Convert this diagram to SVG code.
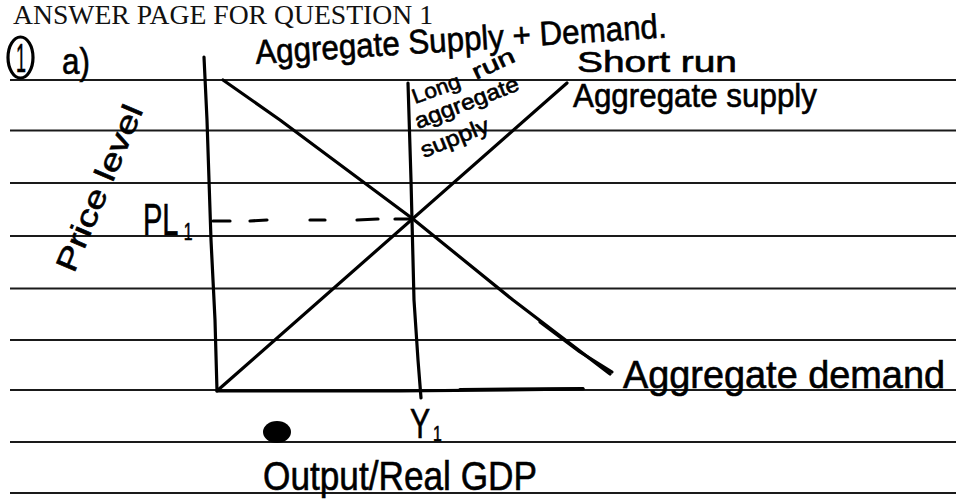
<svg xmlns="http://www.w3.org/2000/svg" width="956" height="501" viewBox="0 0 956 501">
  <defs>
    <style>
      .rule { stroke: #1a1a1a; stroke-width: 2; fill: none; }
      .ink { stroke: #000; stroke-width: 3.2; fill: none; stroke-linecap: round; stroke-linejoin: round; }
      .hand { font-family: "Liberation Sans", "DejaVu Sans", sans-serif; fill: #000; stroke: #000; stroke-width: 0.6; }
      .print { font-family: "Liberation Serif", "Times New Roman", serif; fill: #111; }
    </style>
  </defs>
  <rect width="956" height="501" fill="#fff"/>

  <g id="ruled-lines">
    <line class="rule" x1="10" y1="80" x2="956" y2="80"/>
    <line class="rule" x1="10" y1="130.5" x2="956" y2="130.5"/>
    <line class="rule" x1="10" y1="183" x2="956" y2="183"/>
    <line class="rule" x1="10" y1="236" x2="956" y2="236"/>
    <line class="rule" x1="10" y1="288.5" x2="956" y2="288.5"/>
    <line class="rule" x1="10" y1="340" x2="956" y2="340"/>
    <line class="rule" x1="10" y1="390" x2="956" y2="390"/>
    <line class="rule" x1="10" y1="442" x2="956" y2="442"/>
    <line class="rule" x1="10" y1="493" x2="956" y2="493"/>
  </g>

  <g id="header">
    <text class="print" x="13" y="24" font-size="27" textLength="420" lengthAdjust="spacingAndGlyphs">ANSWER PAGE FOR QUESTION 1</text>
    <ellipse cx="20.5" cy="57.5" rx="12.5" ry="20.5" class="ink" stroke-width="2.8"/>
    <text class="hand" x="21" y="72" font-size="40" text-anchor="middle" textLength="10" lengthAdjust="spacingAndGlyphs">1</text>
    <text class="hand" x="62" y="74" font-size="36" textLength="28" lengthAdjust="spacingAndGlyphs">a)</text>
    <text class="hand" x="256" y="64" font-size="34" textLength="412" lengthAdjust="spacingAndGlyphs" transform="rotate(-3.7 256 64)">Aggregate Supply + Demand.</text>
  </g>

  <g id="axes">
    <polyline class="ink" stroke-width="3.6" points="204,57 207,120 211,240 215,320 217,391"/>
    <polyline class="ink" stroke-width="3.4" points="217,391 400,391 583,389"/>
    <line class="ink" stroke-width="5" x1="460" y1="389.5" x2="583" y2="388.5"/>
  </g>

  <g id="connectors">
    <polyline id="ad-curve" class="ink" points="223,80 280,120 413,219 513,300 610,374"/>
    <polyline class="ink" stroke-width="2" points="540,322 580,352 612,372"/>
    <line id="sras-curve" class="ink" x1="218" y1="390" x2="567" y2="83"/>
    <polyline id="lras-line" class="ink" points="408,83 411,180 414,300 418,360 421,398"/>
    <g id="pl-dashes" class="ink" stroke-width="3">
      <line x1="213" y1="221" x2="230" y2="221"/>
      <line x1="250" y1="221" x2="267" y2="220"/>
      <line x1="310" y1="220" x2="325" y2="220"/>
      <line x1="357" y1="220" x2="378" y2="219"/>
      <line x1="395" y1="219" x2="410" y2="219"/>
    </g>
  </g>

  <g id="label-price-level">
    <text class="hand" x="74" y="274" font-size="30" textLength="178" lengthAdjust="spacingAndGlyphs" transform="rotate(-67 74 274)">Price level</text>
  </g>

  <g id="label-pl1">
    <text class="hand" font-size="44" transform="translate(143 235) scale(0.66 1)">PL<tspan font-size="24" dx="8" dy="5">1</tspan></text>
  </g>

  <g id="label-lras">
    <text class="hand" x="415" y="104" font-size="21" textLength="50" lengthAdjust="spacingAndGlyphs" transform="rotate(-20 415 104)">Long</text>
    <text class="hand" x="476" y="80" font-size="22" textLength="45" lengthAdjust="spacingAndGlyphs" transform="rotate(-25 476 80)">run</text>
    <text class="hand" x="418" y="129" font-size="22" textLength="110" lengthAdjust="spacingAndGlyphs" transform="rotate(-21 418 129)">aggregate</text>
    <text class="hand" x="424" y="158" font-size="22" textLength="72" lengthAdjust="spacingAndGlyphs" transform="rotate(-22 424 158)">supply</text>
  </g>

  <g id="label-sras">
    <text class="hand" x="577" y="72" font-size="30" textLength="160" lengthAdjust="spacingAndGlyphs">Short run</text>
    <text class="hand" x="573" y="107" font-size="33" textLength="244" lengthAdjust="spacingAndGlyphs">Aggregate supply</text>
  </g>

  <g id="label-ad">
    <text class="hand" x="623" y="388" font-size="38" textLength="322" lengthAdjust="spacingAndGlyphs">Aggregate demand</text>
  </g>

  <g id="label-y1">
    <text class="hand" font-size="42" transform="translate(410 438) scale(0.72 1)">Y<tspan font-size="22" dx="4" dy="3">1</tspan></text>
  </g>

  <g id="label-output">
    <text class="hand" x="263" y="490" font-size="40" textLength="274" lengthAdjust="spacingAndGlyphs">Output/Real GDP</text>
  </g>

  <g id="dot">
    <ellipse cx="277" cy="432" rx="14" ry="11" fill="#000"/>
  </g>
</svg>
